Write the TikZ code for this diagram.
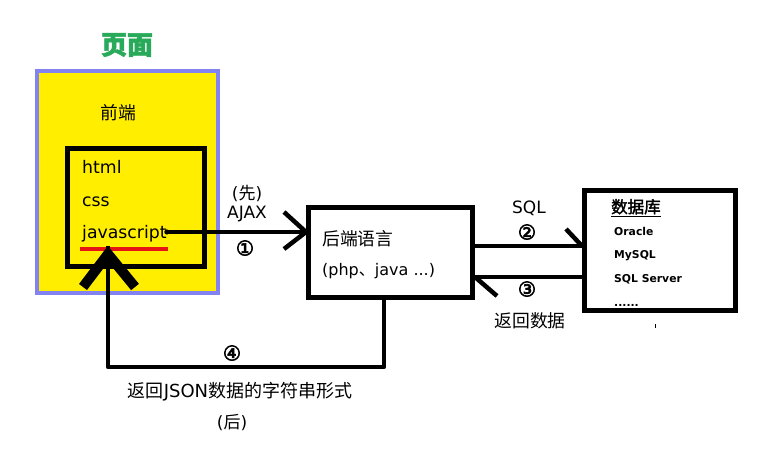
\documentclass[tikz,border=0pt]{standalone}
\usepackage{fontspec}
\setmainfont{DejaVu Sans}
\newfontfamily\cjk{Noto Sans CJK SC}
\newfontfamily\cjkfb{Noto Sans CJK SC}[FakeBold=2]
\newfontfamily\numfont{DejaVu Sans}[FakeBold=3]
\definecolor{pagegreen}{RGB}{40,170,90}
\definecolor{pageyellow}{RGB}{255,238,0}
\definecolor{lavender}{RGB}{130,130,240}
\definecolor{ulred}{RGB}{230,20,20}
\begin{document}
\begin{tikzpicture}[x=1pt,y=-1pt,
  txt/.style={inner sep=0pt,font=\fontsize{17.3}{20}\selectfont},
  lbl/.style={inner sep=0pt,font=\fontsize{17}{19}\selectfont},
  cjklbl/.style={inner sep=0pt,font=\cjk\fontsize{17.8}{20}\selectfont},
  num/.style={inner sep=0pt,font=\numfont\fontsize{20.5}{22}\selectfont},
  dbtxt/.style={inner sep=0pt,anchor=base west,font=\bfseries\fontsize{10.8}{12}\selectfont},
  box/.style={draw=black,line width=5pt,inner sep=0pt},
  conn/.style={draw=black,line width=4.5pt},
  barb/.style={draw=black,line width=4.5pt},
]
\useasboundingbox[fill=white] (0,0) rectangle (778,457);

% page container
\node[inner sep=0pt,text=pagegreen,font=\cjkfb\bfseries\fontsize{26}{28}\selectfont] (title) at (127,45) {页面};
\node[draw=lavender,fill=pageyellow,line width=4pt,minimum width=181pt,minimum height=222pt,inner sep=0pt] (page) at (127.5,182) {};
\node[cjklbl] (front) at (118,113) {前端};
\node[box,minimum width=137pt,minimum height=118pt] (inner) at (136,207.5) {};
\node[txt,anchor=base west] (html) at (82,174) {html};
\node[txt,anchor=base west] (css) at (82,206) {css};
\node[txt,anchor=base west] (js) at (82,238) {javascript};
\draw[ulred,line width=4pt] (js.south west)++(-2,7) coordinate (ul1) -- ([xshift=1pt,yshift=-7pt]js.south east) coordinate (ul2);

% backend
\node[box,minimum width=164pt,minimum height=90pt] (mid) at (390.5,252.5) {};
\node[cjklbl,anchor=base west] (midl1) at (322,245) {后端语言};
\node[txt,anchor=base west,font=\fontsize{16}{19}\selectfont] (midl2) at (322,275) {(php{\cjk 、}java ...)};

% database
\node[box,minimum width=151pt,minimum height=120pt] (db) at (660,250.5) {};
\node[inner sep=0pt,anchor=base west,font=\cjkfb\fontsize{16.5}{19}\selectfont] (dbt) at (611,213) {\underline{数据库}};
\node[dbtxt] (ora) at (614,235) {Oracle};
\node[dbtxt] (mys) at (614,258) {MySQL};
\node[dbtxt] (sqs) at (614,282) {SQL Server};
\node[dbtxt] (dots) at (614,306) {......};
\fill (654.5,324) rectangle (656,328);

% arrow 1: javascript -> backend
\coordinate (a1s) at (js.east |- 0,232);
\coordinate (a1e) at (mid.west |- 0,232);
\draw[conn] (a1s) -- (a1e);
\draw[barb] (a1e) ++(-22,-20) -- (a1e) -- ++(-22,17);
\fill (a1s) circle (2.6pt);
\node[lbl] (pre) at (247,193) {({\cjk 先})};
\node[lbl] (ajax) at (247,214) {AJAX};
\node[num] (n1) at (245,248) {①};

% arrow 2: backend -> db
\coordinate (a2s) at (mid.east |- 0,246);
\coordinate (a2e) at (db.west |- 0,246);
\draw[conn] (a2s) -- (a2e);
\draw[barb] (a2e) ++(-16,-17) -- (a2e);
\node[lbl] (sql) at (529,208) {SQL};
\node[num] (n2) at (527,232) {②};

% arrow 3: db -> backend
\coordinate (a3s) at (db.west |- 0,277);
\coordinate (a3e) at (mid.east |- 0,277);
\draw[conn] (a3s) -- (a3e);
\draw[barb] (a3e) -- ++(22,19);
\node[num] (n3) at (527,289) {③};
\node[cjklbl] (ret) at (530,321) {返回数据};

% arrow 4: backend -> javascript
\coordinate (r1) at (384,367);
\coordinate (r2) at (108,367);
\coordinate (rtip) at (108,254);
\draw[conn,line join=round] ([xshift=-6.5pt]mid.south) -- (r1) -- (r2) -- ([yshift=8pt]rtip);
\draw[black,line width=10pt] (rtip) ++(-25,33) -- (rtip) -- ++(27,33);
\node[num] (n4) at (232,353) {④};
\node[inner sep=0pt,font=\fontsize{18}{20}\selectfont] (jsonl) at (240,392) {{\cjk 返回}JSON{\cjk 数据的字符串形式}};
\node[lbl] (after) at (232,423) {({\cjk 后})};
\end{tikzpicture}
\end{document}
